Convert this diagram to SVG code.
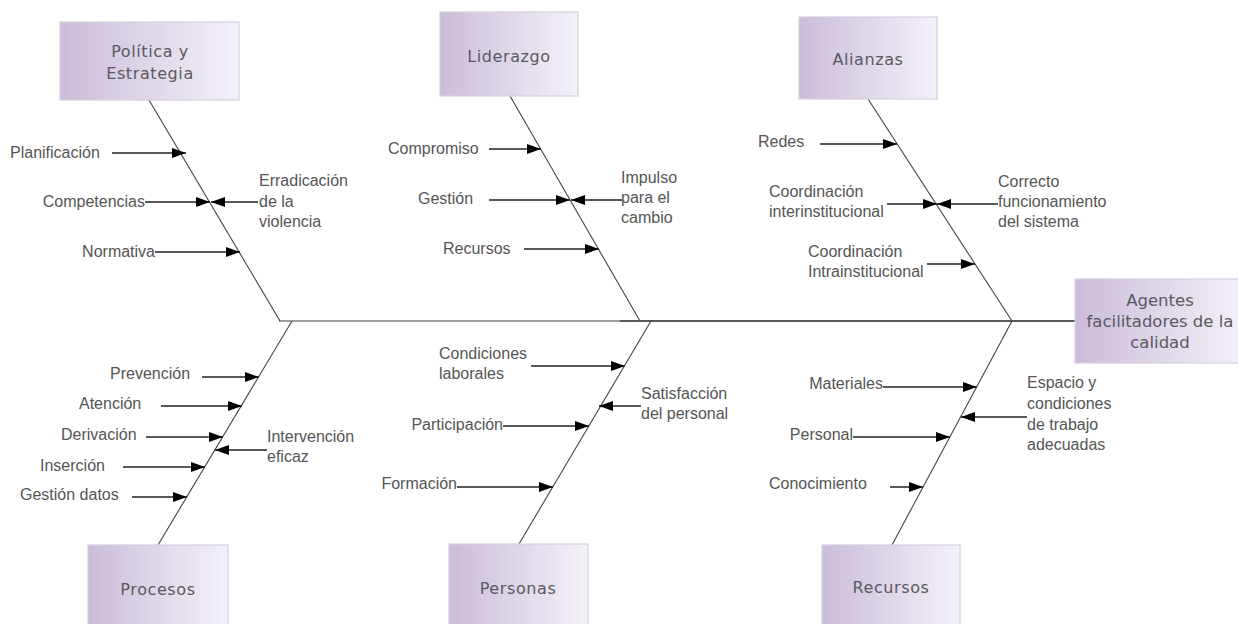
<svg xmlns="http://www.w3.org/2000/svg" width="1238" height="624" viewBox="0 0 1238 624">
<defs>
<linearGradient id="boxg" x1="0" y1="0" x2="1" y2="0">
<stop offset="0" stop-color="#cbbdd9"/>
<stop offset="1" stop-color="#f4f1f9"/>
</linearGradient>
<marker id="ah" markerUnits="userSpaceOnUse" markerWidth="15" markerHeight="11" refX="14" refY="5.5" orient="auto">
<path d="M0,0.5 L14,5.5 L0,10.5 Z" fill="#000"/>
</marker>
</defs>
<style>
.box{fill:url(#boxg);stroke:#d6cfe0;stroke-width:1.2}
.bt{font-family:"DejaVu Sans",Verdana,sans-serif;font-size:16px;fill:#5a5860;text-anchor:middle;letter-spacing:0.6px}
.lb{font-family:"Liberation Sans",Arial,sans-serif;font-size:16px;fill:#555}
.bone{stroke:#444;stroke-width:1.1;fill:none}
.ar{stroke:#222;stroke-width:1.4;fill:none;marker-end:url(#ah)}
</style>
<rect width="1238" height="624" fill="#fff"/>

<g id="connectors">
<line class="bone" x1="279" y1="321" x2="620" y2="321" stroke="#666"/>
<line class="bone" x1="620" y1="321" x2="1075" y2="321" style="stroke:#222;stroke-width:1.4"/>
<line class="bone" x1="149" y1="100" x2="280" y2="321"/>
<line class="bone" x1="510" y1="96" x2="640" y2="321"/>
<line class="bone" x1="868" y1="99" x2="1012" y2="321"/>
<line class="bone" x1="292" y1="321" x2="158" y2="545"/>
<line class="bone" x1="651" y1="321" x2="519" y2="544"/>
<line class="bone" x1="1012" y1="321" x2="892" y2="545"/>

<line class="ar" x1="112" y1="153" x2="186" y2="153"/>
<line class="ar" x1="145" y1="202" x2="210" y2="202"/>
<line class="ar" x1="258" y1="202" x2="211" y2="202"/>
<line class="ar" x1="155" y1="252" x2="240" y2="252"/>

<line class="ar" x1="489" y1="149" x2="541" y2="149"/>
<line class="ar" x1="489" y1="200" x2="570" y2="200"/>
<line class="ar" x1="622" y1="200" x2="571" y2="200"/>
<line class="ar" x1="524" y1="249" x2="599" y2="249"/>

<line class="ar" x1="820" y1="144" x2="897" y2="144"/>
<line class="ar" x1="887" y1="204" x2="937" y2="204"/>
<line class="ar" x1="998" y1="204" x2="937" y2="204"/>
<line class="ar" x1="927" y1="264" x2="975" y2="264"/>

<line class="ar" x1="202" y1="377" x2="259" y2="377"/>
<line class="ar" x1="161" y1="406" x2="242" y2="406"/>
<line class="ar" x1="146" y1="437" x2="223" y2="437"/>
<line class="ar" x1="267" y1="450" x2="215" y2="450"/>
<line class="ar" x1="123" y1="467" x2="205" y2="467"/>
<line class="ar" x1="132" y1="497" x2="187" y2="497"/>

<line class="ar" x1="531" y1="366" x2="625" y2="366"/>
<line class="ar" x1="641" y1="406" x2="599" y2="406"/>
<line class="ar" x1="503" y1="426" x2="589" y2="426"/>
<line class="ar" x1="457" y1="487" x2="553" y2="487"/>

<line class="ar" x1="883" y1="387" x2="977" y2="387"/>
<line class="ar" x1="1027" y1="417" x2="961" y2="417"/>
<line class="ar" x1="853" y1="437" x2="950" y2="437"/>
<line class="ar" x1="890" y1="487" x2="923" y2="487"/>
</g>

<g id="node-politica">
<rect class="box" x="60" y="22" width="179" height="78"/>
<text class="bt" x="150" y="57">Política y</text>
<text class="bt" x="150" y="79">Estrategia</text>
</g>
<g id="node-liderazgo">
<rect class="box" x="440" y="12" width="138" height="84"/>
<text class="bt" x="509" y="62">Liderazgo</text>
</g>
<g id="node-alianzas">
<rect class="box" x="799" y="17" width="138" height="82"/>
<text class="bt" x="868" y="65">Alianzas</text>
</g>
<g id="node-agentes">
<rect class="box" x="1075" y="279" width="170" height="84"/>
<text class="bt" x="1160" y="306" style="font-size:16.5px;letter-spacing:0">Agentes</text>
<text class="bt" x="1160" y="327" style="font-size:16.5px;letter-spacing:0">facilitadores de la</text>
<text class="bt" x="1160" y="348" style="font-size:16.5px;letter-spacing:0">calidad</text>
</g>
<g id="node-procesos">
<rect class="box" x="88" y="545" width="140" height="90"/>
<text class="bt" x="158" y="595">Procesos</text>
</g>
<g id="node-personas">
<rect class="box" x="449" y="544" width="139" height="90"/>
<text class="bt" x="518" y="594">Personas</text>
</g>
<g id="node-recursos">
<rect class="box" x="822" y="545" width="138" height="90"/>
<text class="bt" x="891" y="593">Recursos</text>
</g>

<g id="labels-politica">
<text class="lb" x="10" y="158">Planificación</text>
<text class="lb" x="145" y="207" text-anchor="end">Competencias</text>
<text class="lb" x="155" y="257" text-anchor="end">Normativa</text>
<text class="lb" x="259" y="186">Erradicación</text>
<text class="lb" x="259" y="207">de la</text>
<text class="lb" x="259" y="227">violencia</text>
</g>
<g id="labels-liderazgo">
<text class="lb" x="388" y="154">Compromiso</text>
<text class="lb" x="418" y="204">Gestión</text>
<text class="lb" x="443" y="254">Recursos</text>
<text class="lb" x="621" y="183">Impulso</text>
<text class="lb" x="621" y="203">para el</text>
<text class="lb" x="621" y="223">cambio</text>
</g>
<g id="labels-alianzas">
<text class="lb" x="758" y="147">Redes</text>
<text class="lb" x="769" y="197">Coordinación</text>
<text class="lb" x="769" y="217">interinstitucional</text>
<text class="lb" x="998" y="187">Correcto</text>
<text class="lb" x="998" y="207">funcionamiento</text>
<text class="lb" x="998" y="227">del sistema</text>
<text class="lb" x="808" y="257">Coordinación</text>
<text class="lb" x="808" y="277">Intrainstitucional</text>
</g>
<g id="labels-procesos">
<text class="lb" x="110" y="379">Prevención</text>
<text class="lb" x="79" y="409">Atención</text>
<text class="lb" x="61" y="440">Derivación</text>
<text class="lb" x="40" y="471">Inserción</text>
<text class="lb" x="20" y="500">Gestión datos</text>
<text class="lb" x="267" y="442">Intervención</text>
<text class="lb" x="267" y="462">eficaz</text>
</g>
<g id="labels-personas">
<text class="lb" x="439" y="359">Condiciones</text>
<text class="lb" x="439" y="379">laborales</text>
<text class="lb" x="641" y="399">Satisfacción</text>
<text class="lb" x="641" y="419">del personal</text>
<text class="lb" x="503" y="430" text-anchor="end">Participación</text>
<text class="lb" x="457" y="489" text-anchor="end">Formación</text>
</g>
<g id="labels-recursos">
<text class="lb" x="883" y="389" text-anchor="end">Materiales</text>
<text class="lb" x="853" y="440" text-anchor="end">Personal</text>
<text class="lb" x="769" y="489">Conocimiento</text>
<text class="lb" x="1027" y="388">Espacio y</text>
<text class="lb" x="1027" y="409">condiciones</text>
<text class="lb" x="1027" y="430">de trabajo</text>
<text class="lb" x="1027" y="450">adecuadas</text>
</g>
</svg>
